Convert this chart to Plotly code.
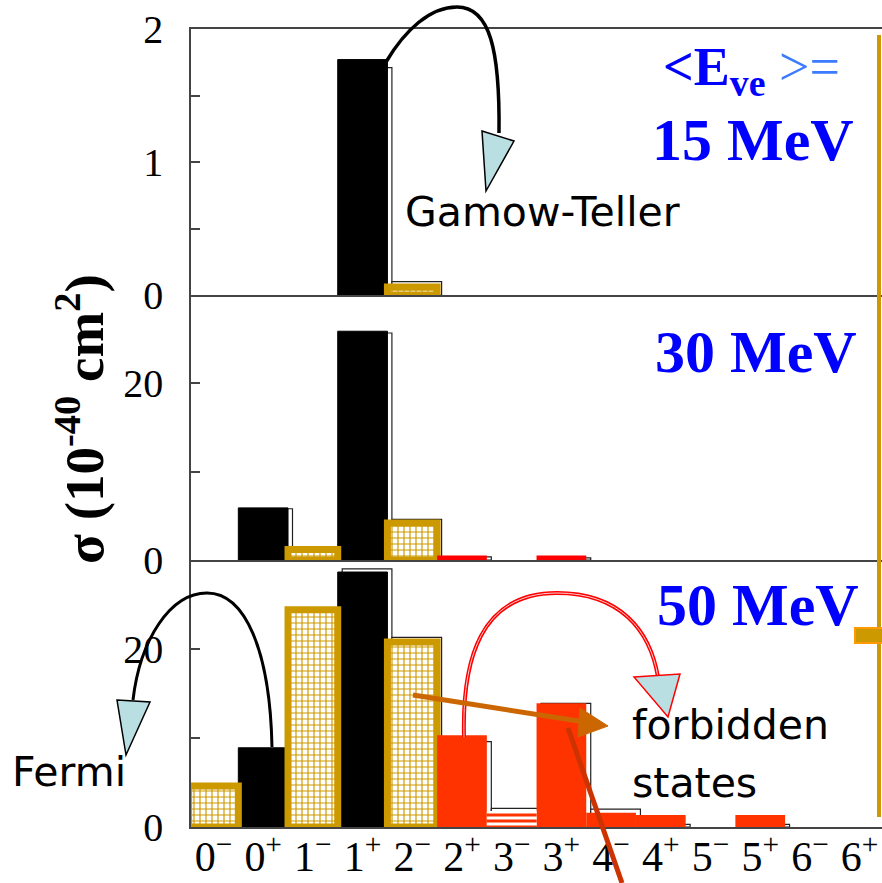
import plotly.graph_objects as go

# ---------------- data ----------------
categories = ["0-", "0+", "1-", "1+", "2-", "2+", "3-", "3+", "4-", "4+", "5-", "5+", "6-", "6+"]
tick_labels = ["0<sup>−</sup>", "0<sup>+</sup>", "1<sup>−</sup>", "1<sup>+</sup>", "2<sup>−</sup>",
               "2<sup>+</sup>", "3<sup>−</sup>", "3<sup>+</sup>", "4<sup>−</sup>", "4<sup>+</sup>",
               "5<sup>−</sup>", "5<sup>+</sup>", "6<sup>−</sup>", "6<sup>+</sup>"]
kind = ["gold", "black", "gold", "black", "gold", "red", "stripe", "red", "red", "red", "red", "red", "red", "red"]

# 15 MeV panel (units 10^-40 cm^2)
sigma_15 = [0, 0, 0, 1.77, 0.06, 0, 0, 0, 0, 0, 0, 0, 0, 0]
sigma_15_ref = [0, 0, 0, 1.71, 0.10, 0, 0, 0, 0, 0, 0, 0, 0, 0]
# 30 MeV panel
sigma_30 = [0, 5.9, 1.2, 25.9, 4.2, 0.5, 0, 0.5, 0, 0, 0, 0, 0, 0]
sigma_30_ref = [0, 5.8, 1.1, 25.7, 4.6, 0.35, 0, 0.25, 0, 0, 0, 0, 0, 0]
# 50 MeV panel
sigma_50 = [4.6, 8.9, 24.4, 28.65, 20.8, 10.3, 1.8, 13.9, 1.6, 1.35, 0, 1.35, 0, 0]
sigma_50_ref = [0, 8.7, 24.0, 29.0, 21.3, 9.6, 2.1, 13.9, 2.0, 0.3, 0, 0.3, 0, 0]

panel_labels = ["15 MeV", "30 MeV", "50 MeV"]

# ---------------- geometry helpers ----------------
W, H = 882, 883
ML, MR, MT, MB = 191, 0, 29, 56
PW, PH = W - ML - MR, H - MT - MB


def px(x):
    return (x - ML) / PW


def py(y):
    return 1 - (y - MT) / PH


GOLD = "#cc9900"
BLACK = "#000000"
SERIF = "Liberation Serif"
SANS = "DejaVu Sans"
AX = "#444444"
IDX = list(range(len(categories)))


def pick(vals, k):
    return [v if (kind[i] == k and v) else None for i, v in enumerate(vals)]


def bar(y, xa, ya, marker, offset=-0.5):
    return go.Bar(x=IDX, y=y, xaxis=xa, yaxis=ya, width=1.0, offset=offset,
                  marker=marker, showlegend=False, hoverinfo="skip")


fig = go.Figure()
for vals, ref, red, xa, ya in [
    (sigma_15, sigma_15_ref, "#ff0000", "x", "y"),
    (sigma_30, sigma_30_ref, "#ff0000", "x2", "y2"),
    (sigma_50, sigma_50_ref, "#ff3300", "x3", "y3"),
]:
    # outline bars of the second calculation (drawn underneath)
    fig.add_trace(bar([v if v else None for v in ref], xa, ya,
                      dict(color="white", line=dict(color="#222222", width=1.2)), offset=-0.41))
    # black bars
    fig.add_trace(bar(pick(vals, "black"), xa, ya, dict(color=BLACK, line=dict(color=BLACK, width=1))))
    # gold cross-hatched bars
    fig.add_trace(bar(pick(vals, "gold"), xa, ya,
                      dict(color=GOLD, line=dict(color=GOLD, width=7),
                           pattern=dict(shape="+", fgcolor=GOLD, bgcolor="white",
                                        fillmode="replace", size=6, solidity=0.35))))
    # red bars
    fig.add_trace(bar(pick(vals, "red"), xa, ya, dict(color=red, line=dict(color=red, width=0))))
    # red striped bar
    fig.add_trace(bar(pick(vals, "stripe"), xa, ya,
                      dict(color=red, line=dict(color=red, width=0),
                           pattern=dict(shape="-", fgcolor=red, bgcolor="white",
                                        fillmode="replace", size=6, solidity=0.5))))

xr = [-0.452, 13.45]
common_x = dict(range=xr, showgrid=False, zeroline=False, showline=True,
                linecolor=AX, linewidth=1.5, ticks="", fixedrange=True)
fig.update_layout(
    width=W, height=H, autosize=False,
    margin=dict(l=ML, r=MR, t=MT, b=MB, autoexpand=False),
    paper_bgcolor="white", plot_bgcolor="white",
    barmode="overlay",
    xaxis=dict(**common_x, anchor="y", mirror=True, showticklabels=False),
    xaxis2=dict(**common_x, anchor="y2", showticklabels=False, matches="x"),
    xaxis3=dict(**common_x, anchor="y3", tickmode="array",
                tickvals=IDX, ticktext=tick_labels, ticklabelstandoff=-8,
                tickfont=dict(family=SERIF, size=42, color="black")),
)

y_common = dict(showgrid=False, zeroline=False, showline=True, linecolor=AX, linewidth=1.5,
                ticks="inside", ticklen=9, tickcolor=AX, tickwidth=1.5,
                tickfont=dict(family=SERIF, size=40, color="black"), ticklabelstandoff=18,
                tickmode="array", fixedrange=True)
fig.update_layout(
    yaxis=dict(**y_common, domain=[py(295), 1], range=[0, 2], anchor="x",
               tickvals=[0, 0.5, 1, 1.5, 2], ticktext=["0", "", "1", "", "2"]),
    yaxis2=dict(**y_common, domain=[py(560), py(295)], range=[0, 30], anchor="x2",
                tickvals=[0, 10, 20, 30], ticktext=["0", "", "20", ""]),
    yaxis3=dict(**y_common, domain=[0, py(560)], range=[0, 30], anchor="x3",
                tickvals=[0, 10, 20, 30], ticktext=["0", "", "20", ""]),
)

ann = []
# y-axis title
ann.append(dict(text="<b>σ (10<sup>-40</sup> cm<sup>2</sup>)</b>", x=px(80), y=py(419),
                xref="paper", yref="paper", xanchor="center", yanchor="middle",
                showarrow=False, textangle=-90,
                font=dict(family=SERIF, size=55, color="black")))
# energy labels
ann.append(dict(text="<b>&lt;E<sub>ve</sub></b><span style='color:#3b7bff'> &gt;=</span>",
                x=px(842), y=py(71), xref="paper", yref="paper", xanchor="right", yanchor="middle",
                showarrow=False, font=dict(family=SERIF, size=54, color="#0000ff")))
for lab, xr_, yc in zip(panel_labels, [856, 859, 861], [140, 352, 605]):
    ann.append(dict(text="<b>" + lab + "</b>", x=px(xr_), y=py(yc), xref="paper", yref="paper",
                    xanchor="right", yanchor="middle", showarrow=False,
                    font=dict(family=SERIF, size=60, color="#0000ff")))
# text labels
for t, x0, yc in [("Gamow-Teller", 403, 212), ("Fermi", 10, 772), ("forbidden", 630, 725), ("states", 630, 783)]:
    ann.append(dict(text=t, x=px(x0), y=py(yc), xref="paper", yref="paper", xanchor="left",
                    yanchor="middle", showarrow=False, font=dict(family=SANS, size=41, color="black")))
fig.update_layout(annotations=ann)


def path(points_cmds):
    out = []
    for c in points_cmds:
        if isinstance(c, str):
            out.append(c)
        else:
            out.append(f"{px(c[0]):.5f},{py(c[1]):.5f}")
    return " ".join(out)


shapes = []
LB = "#b9dfe3"
# Gamow-Teller arc
shapes.append(dict(type="path", xref="paper", yref="paper",
                   path=path(["M", (386, 62), "C", (405, 30), (430, 7), (457, 7),
                              "C", (490, 7), (500, 50), (499, 133)]),
                   line=dict(color="black", width=3.5)))
shapes.append(dict(type="path", xref="paper", yref="paper",
                   path=path(["M", (482, 131), "L", (514, 141), "L", (486, 191), "Z"]),
                   fillcolor=LB, line=dict(color="black", width=1.5)))
# Fermi arc
shapes.append(dict(type="path", xref="paper", yref="paper",
                   path=path(["M", (272, 747), "C", (270, 650), (245, 593), (207, 593),
                              "C", (170, 593), (140, 640), (133, 700)]),
                   line=dict(color="black", width=3)))
shapes.append(dict(type="path", xref="paper", yref="paper",
                   path=path(["M", (117, 700), "L", (150, 702), "L", (126, 755), "Z"]),
                   fillcolor=LB, line=dict(color="black", width=1.5)))
# forbidden arc (red double line)
arc_red = path(["M", (464, 737), "C", (462, 660), (480, 593), (557, 593),
                "C", (620, 593), (650, 630), (658, 677)])
shapes.append(dict(type="path", xref="paper", yref="paper", path=arc_red, line=dict(color="#ff0000", width=4)))
shapes.append(dict(type="path", xref="paper", yref="paper", path=arc_red, line=dict(color="#ffd0d0", width=1)))
shapes.append(dict(type="path", xref="paper", yref="paper",
                   path=path(["M", (634, 677), "L", (680, 674), "L", (668, 717), "Z"]),
                   fillcolor=LB, line=dict(color="#ff0000", width=1.5)))
# orange arrow
shapes.append(dict(type="line", xref="paper", yref="paper", x0=px(413), y0=py(695), x1=px(585), y1=py(722),
                   line=dict(color="#cc6600", width=5)))
shapes.append(dict(type="path", xref="paper", yref="paper",
                   path=path(["M", (580, 708), "L", (608, 726), "L", (578, 737), "Z"]),
                   fillcolor="#cc6600", line=dict(color="#cc6600", width=1)))
# red-brown line
shapes.append(dict(type="line", xref="paper", yref="paper", x0=px(568), y0=py(728), x1=px(622), y1=py(883),
                   line=dict(color="#cc3300", width=5)))
# gold vertical line at right edge
shapes.append(dict(type="line", xref="paper", yref="paper", x0=px(879), y0=py(35), x1=px(879), y1=py(817),
                   line=dict(color=GOLD, width=4)))
shapes.append(dict(type="rect", xref="paper", yref="paper", x0=px(855), y0=py(643), x1=px(883), y1=py(628),
                   fillcolor=GOLD, line=dict(color="#ff9900", width=2)))
fig.update_layout(shapes=shapes)

fig.write_html("out.html", config={"displayModeBar": False},
               post_script="document.body.style.margin='0';document.body.style.padding='0';"
                           "document.body.style.overflow='hidden';")
